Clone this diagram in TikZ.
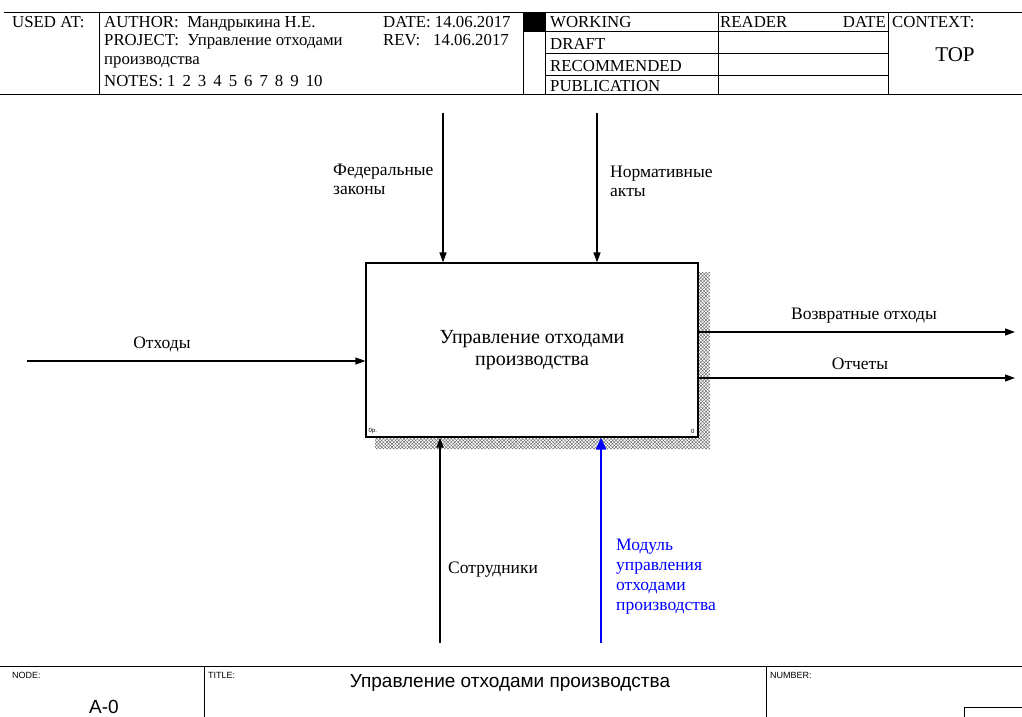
\documentclass[tikz,border=0pt]{standalone}
\usepackage{fontspec}
\setmainfont{Liberation Serif}
\setsansfont{Liberation Sans}
\definecolor{idefblue}{RGB}{0, 0, 255}
\definecolor{shadowgray}{RGB}{80, 80, 80}
\usetikzlibrary{arrows.meta, positioning, calc, patterns.meta}

\begin{document}
\begin{tikzpicture}[x=1pt, y=-1pt,
  arr/.style={line width=1.2pt, -{Triangle[length=10pt, width=7pt]}},
  lbl/.style={inner sep=0pt, align=left, font=\fontsize{17.5}{19}\selectfont},
  hdr/.style={inner sep=0pt, anchor=base west, font=\fontsize{16.8}{19}\selectfont},
  tag/.style={inner sep=0pt, anchor=north west, font=\sffamily\fontsize{9}{10}\selectfont},
  frame/.style={line width=1pt}]
  \useasboundingbox (0,0) rectangle (1022,717);

  % Header
  \draw[frame] (4,13) -- (1022,13);
  \draw[frame] (0,94) -- (1022,94);
  \foreach \xx in {99, 523, 545, 718, 888}
    \draw[frame] (\xx,13) -- (\xx,94);
  \foreach \yy in {32, 54, 75}
    \draw[frame] (545,\yy) -- (888,\yy);
  \fill (523,13) rectangle (545,32);

  \node[hdr] (usedat) at (12,28) {USED AT:};
  \node[hdr] (author) at (104,28) {AUTHOR:\ \ Мандрыкина Н.Е.};
  \node[hdr] (date) at (383,28) {DATE: 14.06.2017};
  \node[hdr] (project) at (104,46) {PROJECT:\ \ Управление отходами};
  \node[hdr] (rev) at (383,46) {REV:\hspace{13pt}14.06.2017};
  \node[hdr] (project2) at (104,65) {производства};
  \node[hdr] (notes) at (104,86) {NOTES:\ 1\hspace{7pt}2\hspace{7pt}3\hspace{7pt}4\hspace{7pt}5\hspace{7pt}6\hspace{7pt}7\hspace{7pt}8\hspace{7pt}9\hspace{7pt}10};

  \node[hdr] (working) at (550,28) {WORKING};
  \node[hdr] (draft) at (550,50) {DRAFT};
  \node[hdr] (recommended) at (550,71) {RECOMMENDED};
  \node[hdr] (publication) at (550,92) {PUBLICATION};
  \node[hdr] (reader) at (720,28) {READER};
  \node[hdr, anchor=base east] (readerdate) at (886,28) {DATE};
  \node[hdr] (context) at (892,28) {CONTEXT:};
  \node[inner sep=0pt, anchor=base, font=\fontsize{21}{24}\selectfont] (top) at (955,62) {TOP};

  % Function box with shadow
  \path[pattern={Lines[angle=45, distance=2.4pt, line width=0.35pt]}, pattern color=shadowgray]
    (698,272) -- (710,272) -- (710,449) -- (375,449) -- (375,437) -- (698,437) -- cycle;
  \path[pattern={Lines[angle=-45, distance=2.4pt, line width=0.35pt]}, pattern color=shadowgray]
    (698,272) -- (710,272) -- (710,449) -- (375,449) -- (375,437) -- (698,437) -- cycle;
  \node[draw, fill=white, line width=1.2pt, minimum width=332pt, minimum height=174pt, inner sep=0pt,
        align=center, font=\fontsize{20}{22}\selectfont] (func) at (532,350) {Управление отходами\\производства};
  \node[inner sep=0pt, anchor=south west, font=\sffamily\fontsize{6}{7}\selectfont] (funcnum) at ($(func.south west)+(3,-4)$) {0р.};
  \node[inner sep=0pt, anchor=south east, font=\sffamily\fontsize{6}{7}\selectfont] (funcid) at ($(func.south east)+(-4,-4)$) {0};

  % Controls
  \coordinate (fedin) at (443,113);
  \coordinate (normin) at (597,113);
  \draw[arr] (fedin) -- (fedin |- func.north);
  \draw[arr] (normin) -- (normin |- func.north);
  \node[lbl, anchor=west] (fedlbl) at (333,179) {Федеральные\\законы};
  \node[lbl, anchor=west] (normlbl) at (610,181) {Нормативные\\акты};

  % Input
  \coordinate (wastein) at (27,361);
  \draw[arr] (wastein) -- (wastein -| func.west);
  \node[lbl] (wastelbl) at (162,344) {Отходы};

  % Outputs
  \coordinate (retout) at (1015,332);
  \coordinate (repout) at (1015,378);
  \draw[arr] (retout -| func.east) -- (retout);
  \draw[arr] (repout -| func.east) -- (repout);
  \node[lbl] (retlbl) at (864,316) {Возвратные отходы};
  \node[lbl] (replbl) at (860,364) {Отчеты};

  % Mechanisms
  \coordinate (staffin) at (440,643);
  \coordinate (modin) at (601,643);
  \draw[arr] (staffin) -- (staffin |- func.south);
  \draw[line width=2.6pt, idefblue, -{Triangle[length=12pt, width=10pt]}] (modin) -- (modin |- func.south);
  \node[lbl, anchor=west] (stafflbl) at (448,570) {Сотрудники};
  \node[lbl, anchor=west, text=idefblue, font=\fontsize{17.5}{20}\selectfont] (modlbl) at (616,577)
    {Модуль\\управления\\отходами\\производства};

  % Footer
  \draw[frame] (0,666) -- (1022,666);
  \draw[frame] (204,666) -- (204,717);
  \draw[frame] (766,666) -- (766,717);
  \draw[frame] (964,717) -- (964,707) -- (1022,707);
  \node[tag] (nodetag) at (12,672) {NODE:};
  \node[tag] (titletag) at (208,672) {TITLE:};
  \node[tag] (numbertag) at (770,672) {NUMBER:};
  \node[inner sep=0pt, font=\sffamily\fontsize{19}{22}\selectfont] (title) at (510,683) {Управление отходами производства};
  \node[inner sep=0pt, font=\sffamily\fontsize{19}{22}\selectfont] (nodeid) at (104,707) {A-0};
\end{tikzpicture}
\end{document}
